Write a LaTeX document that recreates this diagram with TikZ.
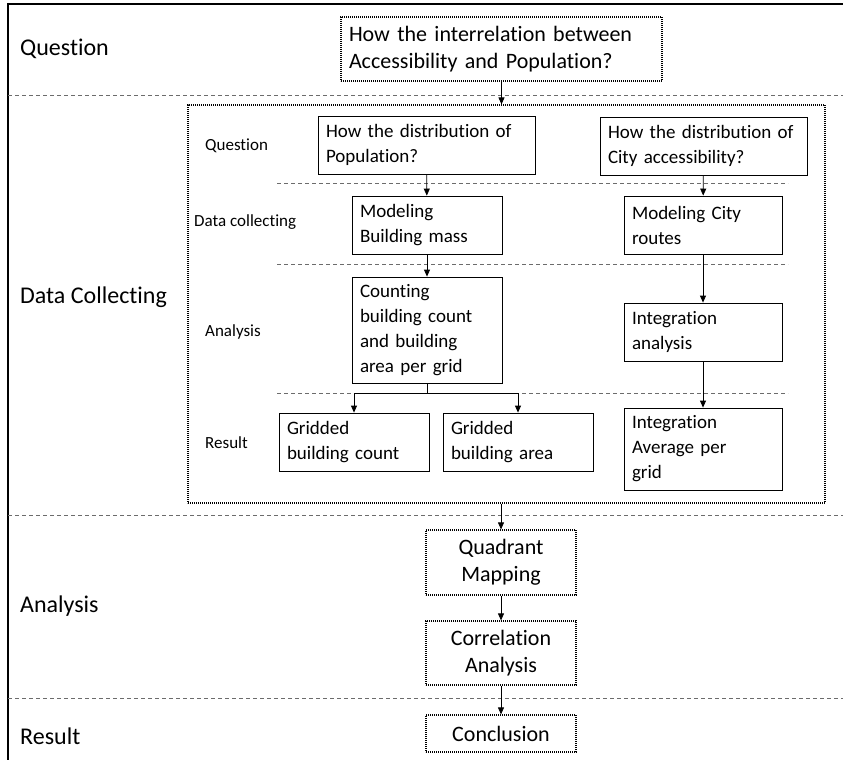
\documentclass[tikz,border=0pt]{standalone}
\usepackage{fontspec}
\setmainfont{Carlito}[Ligatures=NoCommon]
\usetikzlibrary{arrows.meta}

\begin{document}
\begin{tikzpicture}
[
    x=1pt, y=-1pt,
    box/.style={draw, line width=0.8pt, align=left, inner xsep=8pt, inner ysep=3pt,
        font=\fontsize{19}{25}\selectfont},
    dotbox/.style={draw, line width=1.2pt, dash pattern=on 0.9pt off 1.1pt, inner sep=0pt,
        font=\fontsize{22}{27}\selectfont},
    sep/.style={gray!85!black, line width=0.9pt, dash pattern=on 4pt off 3pt},
    rowlabel/.style={anchor=west, inner sep=0pt, font=\fontsize{24}{28}\selectfont},
    sublabel/.style={anchor=west, inner sep=0pt, font=\fontsize{17}{20}\selectfont},
    arr/.style={-{Triangle[length=7pt, width=6pt]}, line width=0.8pt},
]
\useasboundingbox (0,0) rectangle (843,760);
\draw[line width=2.5pt] (8,4) -- (843,4);
\draw[line width=1.5pt] (8,3) -- (8,760);

% stages
\node[rowlabel] (lq) at (20,49) {Question};
\node[rowlabel] (ld) at (20,297) {Data Collecting};
\node[rowlabel] (la) at (20,606) {Analysis};
\node[rowlabel] (lr) at (20,736) {Result};
\draw[sep] (8,95) -- (843,95);
\draw[sep] (8,515) -- (843,515);
\draw[sep] (8,698) -- (843,698);

\node[dotbox, align=left, inner xsep=8pt, text width=305, minimum height=64] (main) at (501.5,49)
{How the interrelation between\\Accessibility and Population?};

% data collecting
\node[dotbox, minimum width=637, minimum height=398] (data) at (506.5,304) {};
\node[sublabel] (sq) at (205,146) {Question};
\node[sublabel] (sd) at (194,222) {Data collecting};
\node[sublabel] (sa) at (205,332) {Analysis};
\node[sublabel] (sr) at (205,443) {Result};
\draw[sep] (277,183) -- (788,183);
\draw[sep] (277,264) -- (788,264);
\draw[sep] (277,393) -- (788,393);

\node[box, text width=201, minimum height=58] (popq) at (426.5,145)
{How the distribution of\\Population?};
\node[box, text width=191, minimum height=58] (accq) at (703.5,146)
{How the distribution of\\City accessibility?};
\node[box, text width=134, minimum height=58] (mass) at (427,225)
{Modeling\\Building mass};
\node[box, text width=142, minimum height=58] (routes) at (703,225)
{Modeling City\\routes};
\node[box, text width=134, minimum height=106] (count) at (427,330)
{Counting\\building count\\and building\\area per grid};
\node[box, text width=142, minimum height=58] (integ) at (703,332)
{Integration\\analysis};
\node[box, text width=134, minimum height=58] (gcount) at (354,442)
{Gridded\\building count};
\node[box, text width=134, minimum height=58] (garea) at (518,442)
{Gridded\\building area};
\node[box, text width=142, minimum height=82] (iavg) at (703,449)
{Integration\\Average per\\grid};

% analysis and result
\node[dotbox, align=center, minimum width=150, minimum height=65] (quad) at (501,562.5)
{Quadrant\\Mapping};
\node[dotbox, align=center, minimum width=150, minimum height=64] (corr) at (501,653)
{Correlation\\Analysis};
\node[dotbox, align=center, minimum width=150, minimum height=37] (concl) at (501,733.5)
{Conclusion};

\coordinate (split) at (427,393);
\draw[arr] (main.south) -- (main.south |- data.north);
\draw[arr] (popq) -- (mass);
\draw[arr] (accq) -- (routes);
\draw[arr] (mass) -- (count);
\draw[arr] (routes) -- (integ);
\draw[arr] (integ) -- (iavg);
\draw[line width=0.8pt] (count.south) -- (split);
\draw[arr] (split) -| (gcount.north);
\draw[arr] (split) -| (garea.north);
\draw[arr] (quad.north |- data.south) -- (quad.north);
\draw[arr] (quad) -- (corr);
\draw[arr] (corr) -- (concl);
\end{tikzpicture}
\end{document}
